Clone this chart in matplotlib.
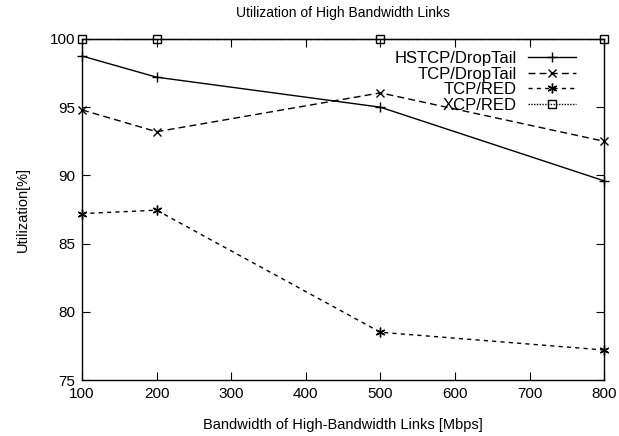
import matplotlib
matplotlib.use("Agg")
import matplotlib.pyplot as plt

plt.rcParams['font.family'] = ['Liberation Sans', 'DejaVu Sans']

bandwidth = [100, 200, 500, 800]
hstcp_droptail = [98.75, 97.2, 95.0, 89.6]
tcp_droptail = [94.8, 93.2, 96.05, 92.5]
tcp_red = [87.2, 87.45, 78.5, 77.2]
xcp_red = [100.0, 100.0, 100.0, 100.0]

fig = plt.figure(figsize=(6.19, 4.36), dpi=100)
ax = fig.add_axes([0.1325, 0.1284, 0.8435, 0.7822])

ax.plot(bandwidth, hstcp_droptail, color='black', lw=1, ls='-', marker='+', ms=7, mew=1,
        label='HSTCP/DropTail', clip_on=False)
ax.plot(bandwidth, tcp_droptail, color='black', lw=1, ls=(0, (5, 3)), marker='x', ms=6, mew=1,
        label='TCP/DropTail', clip_on=False)
ax.plot(bandwidth, tcp_red, color='black', lw=1, ls=(0, (3, 3)), marker=(6, 2, 0), ms=7, mew=1,
        label='TCP/RED', clip_on=False)
ax.plot(bandwidth, xcp_red, color='black', lw=1, ls=(0, (1, 1)), marker='s', ms=6, mew=1,
        mfc='none', label='XCP/RED', clip_on=False)

ax.set_xlim(100, 800)
ax.set_ylim(75, 100)
ax.set_xticks(range(100, 801, 100))
ax.set_yticks(range(75, 101, 5))
ax.tick_params(direction='in', top=True, right=True, length=6, labelsize=11, pad=5)
for s in ax.spines.values():
    s.set_linewidth(1)

ax.set_xlabel('Bandwidth of High-Bandwidth Links [Mbps]', fontsize=10.5, labelpad=12)
ax.set_ylabel('Utilization[%]', fontsize=10.5, labelpad=14)
ax.set_title('Utilization of High Bandwidth Links', fontsize=10, pad=16)

ax.legend(loc='upper right', frameon=False, markerfirst=False, fontsize=12,
          handlelength=2.9, labelspacing=0.03, borderaxespad=0, borderpad=0,
          handletextpad=0.65, bbox_to_anchor=(0.946, 0.964))

fig.savefig('out.png', dpi=100)
